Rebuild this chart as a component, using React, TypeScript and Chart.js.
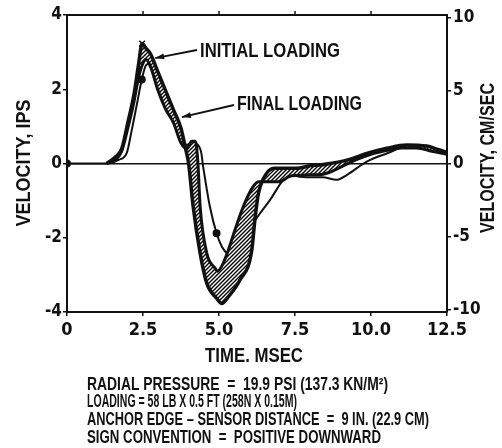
import React, { useEffect, useRef } from 'react';
import { Chart, registerables } from 'chart.js';

Chart.register(...registerables);

// ---- axis ticks ----
const X_TICKS = [0, 2.5, 5, 7.5, 10, 12.5];
const LEFT_TICKS = [-4, -2, 0, 2, 4];
const RIGHT_TICKS = [-10, -5, 0, 5, 10];

// ---- band edge A (early / outer edge of hatched band) ----
const EDGE_A_X = [1.3, 1.6, 1.8, 2.0, 2.2, 2.35, 2.47, 2.6, 2.75, 3.0, 3.25, 3.5, 3.75, 3.9, 4.0, 4.15, 4.38, 4.6, 4.92, 5.09, 5.3, 5.69, 6.08, 6.18, 6.3, 6.57, 6.84, 7.22, 7.55, 8.0, 8.32, 8.65, 9.2, 9.86, 10.52, 11.17, 11.83, 12.2, 12.5];
const EDGE_A_Y = [0, 0.18, 0.4, 1.1, 1.85, 2.65, 3.23, 3.1, 2.95, 2.45, 1.95, 1.45, 0.95, 0.4, 0.0, -1.16, -2.42, -3.23, -3.63, -3.77, -3.6, -3.14, -2.33, -1.52, -0.8, -0.26, -0.13, -0.13, -0.13, -0.06, -0.04, 0.0, 0.09, 0.27, 0.41, 0.5, 0.47, 0.38, 0.3];

// ---- band edge B (late / inner edge of hatched band) ----
const EDGE_B_X = [1.3, 1.6, 1.8, 2.0, 2.2, 2.35, 2.5, 2.6, 2.75, 3.0, 3.25, 3.5, 3.75, 3.95, 4.1, 4.22, 4.3, 4.38, 4.6, 4.87, 4.95, 5.1, 5.3, 5.5, 5.8, 6.1, 6.3, 6.6, 7.0, 7.3, 7.6, 8.0, 8.3, 8.6, 9.0, 9.5, 10.0, 10.5, 11.0, 11.5, 12.0, 12.5];
const EDGE_B_Y = [0, 0.1, 0.33, 0.95, 1.65, 2.3, 2.7, 2.8, 2.6, 1.95, 1.45, 1.1, 0.55, 0.4, 0.6, 0.6, 0.1, -1.16, -2.42, -2.82, -2.9, -2.75, -2.35, -1.85, -1.16, -0.65, -0.49, -0.49, -0.49, -0.35, -0.32, -0.3, -0.3, -0.25, -0.1, 0.1, 0.25, 0.35, 0.42, 0.42, 0.33, 0.25];

// ---- thin trace (final loading, late) ----
const THIN_X = [0, 1.35, 1.7, 1.96, 2.13, 2.3, 2.46, 2.6, 2.75, 3.0, 3.3, 3.6, 3.9, 4.15, 4.4, 4.48, 4.7, 4.92, 5.1, 5.3, 5.42, 5.6, 5.91, 6.3, 6.68, 7.11, 7.39, 7.6, 8.0, 8.4, 8.87, 9.2, 9.86, 10.52, 11.17, 11.83, 12.5];
const THIN_Y = [0, 0, 0.1, 0.27, 0.9, 1.6, 2.26, 2.65, 2.7, 2.2, 1.6, 1.05, 0.5, 0.55, 0.35, -0.09, -1.16, -1.88, -2.25, -2.45, -2.5, -2.3, -1.88, -1.4, -0.98, -0.44, -0.22, -0.35, -0.37, -0.37, -0.44, -0.31, 0.05, 0.27, 0.45, 0.45, 0.3];

// ---- annotation arrow tips (data coords) ----
const INITIAL_TIP = { x: 2.9, y: 2.84 };
const FINAL_TIP = { x: 3.78, y: 1.25 };

const FOOTNOTES = [
  'RADIAL PRESSURE  =  19.9 PSI (137.3 KN/M²)',
  'LOADING = 58 LB X 0.5 FT (258N X 0.15M)',
  'ANCHOR EDGE – SENSOR DISTANCE  =  9 IN. (22.9 CM)',
  'SIGN CONVENTION  =  POSITIVE DOWNWARD',
];

const NARROW = "'Liberation Sans Narrow', 'Arial Narrow', 'DejaVu Sans Condensed', 'Liberation Sans', sans-serif";
const WIDE = "'Liberation Sans', Arial, sans-serif";
const INK = '#111';

const pts = (xs: number[], ys: number[]) => xs.map((x, i) => ({ x, y: ys[i] }));

function makeHatch(): CanvasPattern | string {
  const c = document.createElement('canvas');
  c.width = 4;
  c.height = 4;
  const g = c.getContext('2d');
  if (!g) return '#666';
  g.fillStyle = '#fff';
  g.fillRect(0, 0, 4, 4);
  g.strokeStyle = '#000';
  g.lineWidth = 1.4;
  g.beginPath();
  g.moveTo(0, 4); g.lineTo(4, 0);
  g.moveTo(-1, 1); g.lineTo(1, -1);
  g.moveTo(3, 5); g.lineTo(5, 3);
  g.stroke();
  return g.createPattern(c, 'repeat') || '#666';
}

const overlay = {
  id: 'overlay',
  afterDraw(chart: any) {
    const { ctx, chartArea: a, scales } = chart;
    const sx = scales.x, sy = scales.y;
    ctx.save();
    ctx.strokeStyle = INK;
    ctx.fillStyle = INK;
    // top frame line and ticks
    ctx.lineWidth = 2;
    ctx.beginPath();
    ctx.moveTo(a.left - 1, a.top);
    ctx.lineTo(a.right + 1, a.top);
    ctx.stroke();
    ctx.lineWidth = 1.5;
    for (const v of X_TICKS.slice(1, -1)) {
      const px = sx.getPixelForValue(v);
      ctx.beginPath();
      ctx.moveTo(px, a.top);
      ctx.lineTo(px, a.top - 4);
      ctx.stroke();
    }

    const text = (s: string, x: number, y: number, size: number, maxW: number, align: CanvasTextAlign = 'left', rot = 0) => {
      ctx.save();
      ctx.translate(x, y);
      if (rot) ctx.rotate(rot);
      ctx.font = `bold ${size}px ${WIDE}`;
      ctx.textAlign = align;
      ctx.textBaseline = rot ? 'middle' : 'alphabetic';
      const w = ctx.measureText(s).width;
      if (w > maxW) ctx.fillText(s, 0, 0, maxW);
      else ctx.fillText(s, 0, 0);
      ctx.restore();
    };

    // axis titles
    text('VELOCITY, IPS', 24, 163, 20, 127, 'center', -Math.PI / 2);
    text('VELOCITY, CM/SEC', 488, 158, 20, 150, 'center', -Math.PI / 2);
    text('TIME. MSEC', 254, 362, 20, 98, 'center');

    // footnotes
    const widths = [301, 210, 342, 294];
    const bases = [390, 407, 425, 443];
    FOOTNOTES.forEach((s, i) => text(s, 87, bases[i], 17.5, widths[i], 'left'));

    // annotations with arrows
    const arrow = (fromX: number, fromY: number, tip: { x: number; y: number }) => {
      const tx = sx.getPixelForValue(tip.x);
      const ty = sy.getPixelForValue(tip.y);
      ctx.lineWidth = 1.8;
      ctx.beginPath();
      ctx.moveTo(fromX, fromY);
      ctx.lineTo(tx, ty);
      ctx.stroke();
      const ang = Math.atan2(ty - fromY, tx - fromX);
      const L = 9, W = 3;
      ctx.beginPath();
      ctx.moveTo(tx, ty);
      ctx.lineTo(tx - L * Math.cos(ang) + W * Math.sin(ang), ty - L * Math.sin(ang) - W * Math.cos(ang));
      ctx.lineTo(tx - L * Math.cos(ang) - W * Math.sin(ang), ty - L * Math.sin(ang) + W * Math.cos(ang));
      ctx.closePath();
      ctx.fill();
    };
    arrow(197, 50, INITIAL_TIP);
    arrow(234, 105, FINAL_TIP);
    text('INITIAL LOADING', 200, 57, 19.5, 140, 'left');
    text('FINAL LOADING', 237, 110, 19.5, 125, 'left');
    ctx.restore();
  },
};

export default function App() {
  const ref = useRef<HTMLCanvasElement | null>(null);
  useEffect(() => {
    if (!ref.current) return;
    const hatch = makeHatch();
    const tickFont = (size: number) => ({ family: NARROW, size, weight: 'bold' as const });
    const chart = new Chart(ref.current, {
      type: 'line',
      data: {
        datasets: [
          {
            label: 'edge A',
            data: pts(EDGE_A_X, EDGE_A_Y),
            borderColor: INK,
            borderWidth: 3.5,
            pointRadius: (c: any) => (c.dataIndex === 6 ? 4 : 0),
            pointStyle: 'crossRot',
            pointBorderColor: INK,
            pointBorderWidth: 1.5,
            cubicInterpolationMode: 'monotone',
            fill: false,
          },
          {
            label: 'edge B',
            data: pts(EDGE_B_X, EDGE_B_Y),
            borderColor: INK,
            borderWidth: 3,
            pointRadius: 0,
            cubicInterpolationMode: 'monotone',
            fill: { target: 0 },
            backgroundColor: hatch as any,
          },
          {
            label: 'thin',
            data: pts(THIN_X, THIN_Y),
            borderColor: INK,
            borderWidth: 2,
            pointRadius: (c: any) => ([0, 6, 17].includes(c.dataIndex) ? 3 : 0),
            pointBackgroundColor: INK,
            pointBorderColor: INK,
            cubicInterpolationMode: 'monotone',
            fill: false,
          },
        ],
      },
      options: {
        animation: false,
        responsive: false,
        maintainAspectRatio: false,
        devicePixelRatio: 1,
        layout: { padding: { top: 15, left: 0, right: 0, bottom: 0 } },
        plugins: { legend: { display: false }, tooltip: { enabled: false }, title: { display: false } },
        scales: {
          x: {
            type: 'linear',
            min: 0,
            max: 12.5,
            afterBuildTicks: (s: any) => { s.ticks = X_TICKS.map((v) => ({ value: v })); },
            afterFit: (s: any) => { s.height = 136; },
            ticks: {
              callback: (v: any) => (Number(v) === 0 ? '0' : Number(v).toFixed(1)),
              font: tickFont(18),
              color: INK,
              padding: 4,
              maxRotation: 0,
              autoSkip: false,
            },
            grid: { drawOnChartArea: false, tickLength: 4, color: INK, lineWidth: 1.5 },
            border: { display: true, color: INK, width: 2 },
          },
          y: {
            position: 'left',
            min: -4,
            max: 4,
            afterBuildTicks: (s: any) => { s.ticks = LEFT_TICKS.map((v) => ({ value: v })); },
            afterFit: (s: any) => { s.width = 67; },
            ticks: { font: tickFont(17), color: INK, padding: 1 },
            grid: {
              drawOnChartArea: true,
              color: (c: any) => (c.tick && c.tick.value === 0 ? INK : 'rgba(0,0,0,0)'),
              tickColor: INK,
              tickLength: 4,
              lineWidth: 1.5,
            },
            border: { display: true, color: INK, width: 2 },
          },
          y2: {
            position: 'right',
            min: -10.16,
            max: 10.16,
            afterBuildTicks: (s: any) => { s.ticks = RIGHT_TICKS.map((v) => ({ value: v })); },
            afterFit: (s: any) => { s.width = 55; },
            ticks: { font: tickFont(17), color: INK, padding: 2 },
            grid: { drawOnChartArea: false, tickLength: 4, color: INK, lineWidth: 1.5 },
            border: { display: true, color: INK, width: 2 },
          },
        },
      } as any,
      plugins: [overlay],
    });
    return () => chart.destroy();
  }, []);
  return (
    <div style={{ position: 'fixed', left: 0, top: 0, width: 502, height: 448, background: '#fff' }}>
      <canvas ref={ref} width={502} height={448} style={{ display: 'block', width: 502, height: 448 }} />
    </div>
  );
}
